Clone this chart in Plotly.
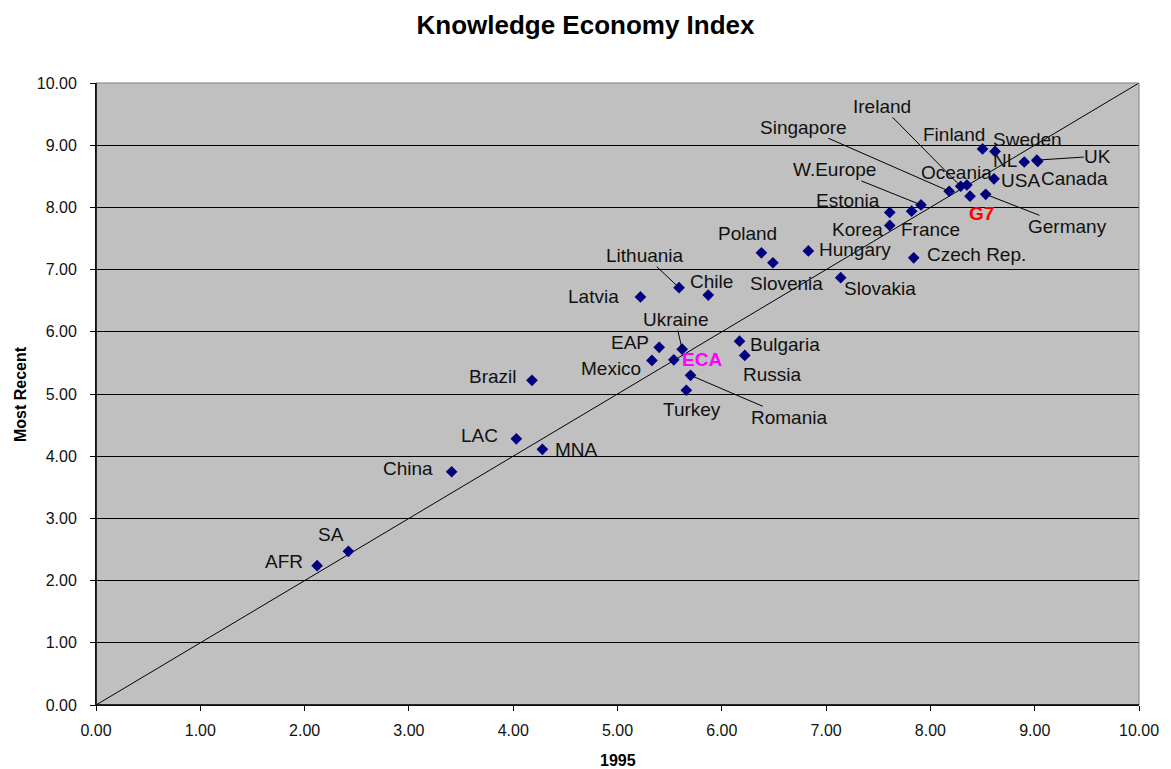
import plotly.graph_objects as go

# ---- data ----
countries = ["AFR", "SA", "China", "LAC", "MNA", "Brazil", "Mexico", "EAP", "Ukraine", "ECA",
             "Turkey", "Romania", "Bulgaria", "Russia", "Latvia", "Lithuania", "Chile", "Poland",
             "Slovenia", "Hungary", "Slovakia", "Czech Rep.", "Korea", "Estonia", "France",
             "W.Europe", "Singapore", "Ireland", "Oceania", "G7", "Germany", "USA", "Finland",
             "Sweden", "NL", "UK", "Canada"]
kei_1995 = [2.12, 2.42, 3.41, 4.03, 4.28, 4.18, 5.33, 5.40, 5.62, 5.54,
            5.66, 5.70, 6.17, 6.22, 5.22, 5.59, 5.87, 6.38,
            6.49, 6.83, 7.14, 7.84, 7.61, 7.61, 7.82,
            7.91, 8.18, 8.29, 8.35, 8.38, 8.53, 8.61, 8.50,
            8.62, 8.90, 9.02, 9.03]
kei_recent = [2.24, 2.47, 3.75, 4.28, 4.11, 5.22, 5.54, 5.75, 5.72, 5.55,
              5.06, 5.30, 5.85, 5.62, 6.56, 6.71, 6.59, 7.27,
              7.11, 7.30, 6.87, 7.19, 7.71, 7.92, 7.94,
              8.04, 8.26, 8.34, 8.36, 8.18, 8.21, 8.46, 8.94,
              8.90, 8.73, 8.76, 8.74]
diag = [0, 10]
tick_vals = list(range(0, 11))
tick_text = [f"{v:.2f}" for v in tick_vals]

# ---- label placement (pixel offsets from the point: dx right, dy down; leader flag) ----
label_style = {
    "AFR": (-33, -4, False), "SA": (-17, -17, False), "China": (-44, -3, False),
    "LAC": (-37, -3, False), "MNA": (34, 0, False), "Brazil": (-39, -4, False),
    "Mexico": (-41, 8, False), "EAP": (-29, -5, False), "Ukraine": (-7, -30, True),
    "ECA": (28, 0, False), "Turkey": (6, 19, False), "Romania": (98, 42, True),
    "Bulgaria": (45, 3, False), "Russia": (28, 19, False), "Latvia": (-47, 0, False),
    "Lithuania": (-34, -32, True), "Chile": (3, -14, False), "Poland": (-14, -19, False),
    "Slovenia": (14, 21, False), "Hungary": (47, -1, False), "Slovakia": (39, 11, False),
    "Czech Rep.": (63, -3, False), "Korea": (-32, 4, False), "Estonia": (-42, -12, False),
    "France": (19, 18, False), "W.Europe": (-87, -35, True), "Singapore": (-146, -64, True),
    "Ireland": (-79, -80, True), "Oceania": (-10, -13, False), "G7": (11, 17, False),
    "Germany": (82, 32, True), "USA": (26, 2, False), "Finland": (-29, -14, False),
    "Sweden": (32, -12, False), "NL": (-19, -1, False), "UK": (61, -4, True),
    "Canada": (37, 17, False),
}
special = {"G7": "#FF0000", "ECA": "#FF00FF"}

FONT = "Liberation Sans, Arial, sans-serif"
TXT = "#111111"

fig = go.Figure()
fig.add_trace(go.Scatter(x=diag, y=diag, mode="lines",
                         line=dict(color="black", width=1), hoverinfo="skip", showlegend=False))
fig.add_trace(go.Scatter(x=kei_1995, y=kei_recent, mode="markers", text=countries,
                         marker=dict(symbol="diamond", size=9, color="#000080"),
                         showlegend=False))

annotations = []
for name, xv, yv in zip(countries, kei_1995, kei_recent):
    dx, dy, leader = label_style[name]
    if name in special:
        fnt = dict(family=FONT, size=19, color=special[name])
        txt = f"<b>{name}</b>"
    else:
        fnt = dict(family=FONT, size=19, color=TXT)
        txt = name
    if leader:
        annotations.append(dict(x=xv, y=yv, xref="x", yref="y", text=txt, font=fnt,
                                showarrow=True, arrowhead=0, arrowwidth=1, arrowcolor="black",
                                ax=dx, ay=dy, standoff=0, borderpad=0))
    else:
        annotations.append(dict(x=xv, y=yv, xref="x", yref="y", text=txt, font=fnt,
                                showarrow=False, xshift=dx, yshift=-dy,
                                xanchor="center", yanchor="middle", borderpad=0))

# axis titles
annotations.append(dict(x=0, y=0.5, xref="paper", yref="paper", text="<b>Most Recent</b>",
                        textangle=-90, showarrow=False, xshift=-76,
                        font=dict(family=FONT, size=16, color="black"),
                        xanchor="center", yanchor="middle"))
annotations.append(dict(x=0.5, y=0, xref="paper", yref="paper", text="<b>1995</b>",
                        showarrow=False, yshift=-55,
                        font=dict(family=FONT, size=16, color="black"),
                        xanchor="center", yanchor="middle"))

fig.update_layout(
    width=1171, height=769,
    margin=dict(l=96, r=27, t=83, b=64),
    paper_bgcolor="white",
    plot_bgcolor="#C0C0C0",
    title=dict(text="<b>Knowledge Economy Index</b>", x=0.5, xref="container",
               y=1 - 25 / 769, yref="container", xanchor="center", yanchor="middle",
               font=dict(family=FONT, size=26, color="black")),
    annotations=annotations,
    shapes=[dict(type="rect", xref="paper", yref="paper", x0=0, y0=0, x1=1, y1=1,
                 line=dict(color="#808080", width=1), layer="above"),
            dict(type="line", xref="paper", yref="paper", x0=0, y0=0, x1=0, y1=1,
                 line=dict(color="black", width=1.5), layer="above"),
            dict(type="line", xref="paper", yref="paper", x0=0, y0=0, x1=1, y1=0,
                 line=dict(color="black", width=1.5), layer="above")],
    showlegend=False,
)
fig.update_xaxes(range=[0, 10], tickvals=tick_vals, ticktext=tick_text, showgrid=False,
                 zeroline=False, showline=True, linecolor="black", linewidth=1,
                 ticks="outside", ticklen=5, tickcolor="black",
                 tickfont=dict(family=FONT, size=16, color=TXT), ticklabelstandoff=6)
fig.update_yaxes(range=[0, 10], tickvals=tick_vals, ticktext=tick_text, showgrid=True,
                 gridcolor="black", gridwidth=1, zeroline=False, showline=True,
                 linecolor="black", linewidth=1, ticks="outside", ticklen=5,
                 tickcolor="black", tickfont=dict(family=FONT, size=16, color=TXT),
                 ticklabelstandoff=10)

fig.write_html("out.html")
